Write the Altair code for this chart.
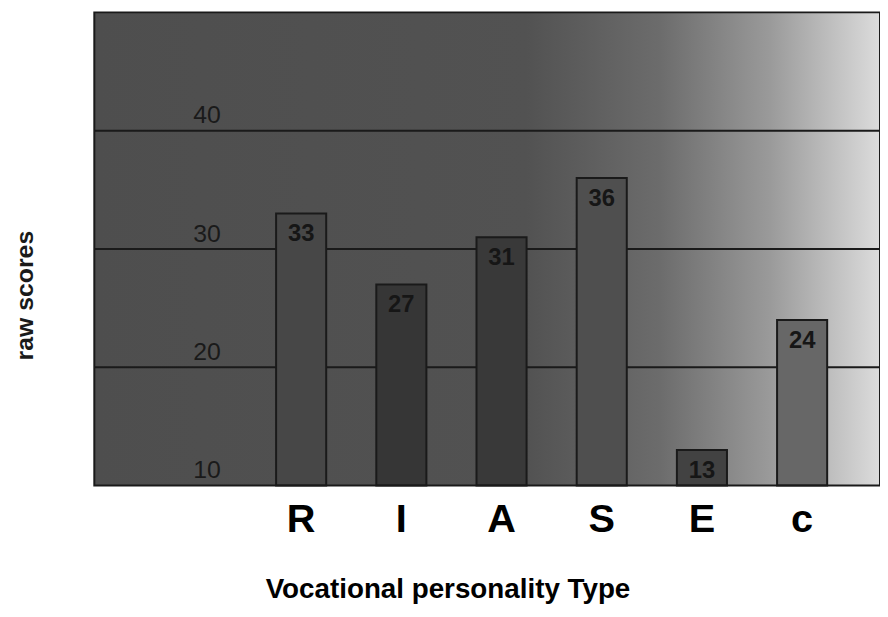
import altair as alt
import pandas as pd

categories = ["R", "I", "A", "S", "E", "c"]
scores = [33, 27, 31, 36, 13, 24]
y_tick_values = [10, 20, 30, 40]
grid_values = [20, 30, 40]
bar_colors = ["#474747", "#363636", "#393939", "#4f4f4f", "#424242", "#676767"]

W, H = 792, 477
FONT = "Liberation Sans"
INK = "#1a1a1a"

df = pd.DataFrame({"type": categories, "score": scores})
grid_df = pd.DataFrame({"v": grid_values})
one = pd.DataFrame({"a": [0]})

xscale = alt.Scale(domain=categories, range=[158, 764], paddingInner=0.5)
yscale = alt.Scale(domain=[10, 50], zero=False, nice=False)

x_axis = alt.Axis(
    title="Vocational personality Type",
    labelAngle=0, labelFontSize=40, labelFontWeight="bold", labelColor="#000000",
    labelBaseline="alphabetic", labelPadding=46, ticks=False, tickSize=0, domain=False,
    grid=False,
    titleFontSize=28, titleFontWeight="bold", titleColor="#000000",
    titleX=356, titleY=105, titleAlign="center", titleBaseline="middle",
)
y_axis = alt.Axis(
    values=y_tick_values, grid=False, domain=False, ticks=False, tickSize=0,
    labelPadding=-127, labelAlign="right", labelBaseline="alphabetic",
    labelOffset=-8, labelFontSize=25, labelColor=INK, zindex=1,
    title="raw scores", titleFontSize=25, titleFontWeight="bold", titleColor=INK,
    titleX=-70, titleY=285, titleAngle=270, titleAlign="center", titleBaseline="middle",
)

bg_gradient = alt.Gradient(
    gradient="linear",
    stops=[
        alt.GradientStop(color="#4e4e4e", offset=0),
        alt.GradientStop(color="#525252", offset=0.55),
        alt.GradientStop(color="#6c6c6c", offset=0.72),
        alt.GradientStop(color="#9a9a9a", offset=0.86),
        alt.GradientStop(color="#dcdcdc", offset=1),
    ],
    x1=0, x2=1, y1=0, y2=0,
)

background = alt.Chart(one).mark_rect(color=bg_gradient).encode(
    x=alt.value(0), x2=alt.value(W), y=alt.value(0), y2=alt.value(H)
)

grid = alt.Chart(grid_df).mark_rule(color=INK, strokeWidth=2).encode(
    y=alt.Y("v:Q", scale=yscale, axis=y_axis, title="raw scores")
)

bars = alt.Chart(df).mark_bar(stroke=INK, strokeWidth=2).encode(
    x=alt.X("type:N", sort=categories, scale=xscale, axis=x_axis, title="Vocational personality Type"),
    y=alt.Y("score:Q", scale=yscale, axis=y_axis, title="raw scores"),
    y2=alt.datum(10),
    color=alt.Color("type:N", scale=alt.Scale(domain=categories, range=bar_colors), legend=None),
)

labels = alt.Chart(df).mark_text(
    fontSize=24, fontWeight="bold", color="#161616", baseline="middle", dy=21
).encode(
    x=alt.X("type:N", sort=categories, scale=xscale, axis=x_axis, title="Vocational personality Type"),
    y=alt.Y("score:Q", scale=yscale, axis=y_axis, title="raw scores"),
    text="score:Q",
)

border = alt.Chart(one).mark_rect(filled=False, stroke=INK, strokeWidth=2).encode(
    x=alt.value(0), x2=alt.value(W), y=alt.value(0), y2=alt.value(H)
)

chart = alt.layer(background, grid, bars, labels, border).properties(
    width=W, height=H,
    autosize=alt.AutoSizeParams(type="none"),
    padding={"left": 87, "top": 2, "right": 0, "bottom": 120},
    background="#ffffff",
).configure_view(stroke=None).configure_axis(labelFont=FONT, titleFont=FONT)

chart.save("out.html", embed_options={"renderer": "svg", "actions": False})
